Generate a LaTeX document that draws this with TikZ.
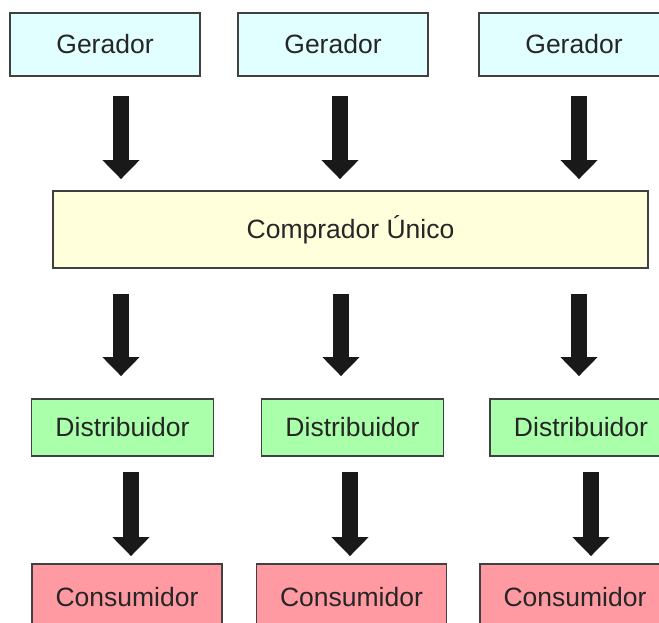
\documentclass[tikz,border=0pt]{standalone}
\usepackage{fontspec}
\setmainfont{Liberation Sans}
\usetikzlibrary{arrows.meta,calc}

\definecolor{corger}{HTML}{E1FFFF}
\definecolor{corcomp}{HTML}{FFFFDC}
\definecolor{cordist}{HTML}{AAFFAA}
\definecolor{corcons}{HTML}{FF99A2}

\begin{document}
\begin{tikzpicture}[x=1pt,y=-1pt,
		caixa/.style={draw=black!75,line width=1.8pt,inner sep=0pt,text=black!85,font=\fontsize{26.5}{30}\selectfont},
		ger/.style={caixa,fill=corger,minimum width=190pt,minimum height=63pt},
		comp/.style={caixa,fill=corcomp,minimum width=595pt,minimum height=77pt},
		dist/.style={caixa,fill=cordist,minimum width=182pt,minimum height=57pt},
		cons/.style={caixa,fill=corcons,minimum width=190pt,minimum height=66pt},
		seta/.style={line width=16pt,draw=black!90,-{Triangle[width=36pt,length=19pt]}}]
			\clip (0,0) rectangle (659,623);
			\fill[white] (0,0) rectangle (659,623);
			% geradores
			\node[ger] (g1) at (105,44.5) {Gerador};
			\node[ger] (g2) at (333,44.5) {Gerador};
			\node[ger] (g3) at (574,44.5) {Gerador};
			\node[comp] (cu) at (350.5,229.5) {Comprador Único};
			% distribuidores e consumidores
			\node[dist] (d1) at (122.5,427.5) {Distribuidor};
			\node[dist] (d2) at (352.5,427.5) {Distribuidor};
			\node[dist] (d3) at (581,427.5) {Distribuidor};
			\node[cons] (c1) at (127,597) {Consumidor};
			\node[cons] (c2) at (351.5,597) {Consumidor};
			\node[cons] (c3) at (575,597) {Consumidor};
			\draw[seta] ($(g1.south)+(16,19)$) -- ($(g1.south |- cu.north)+(16,-11)$);
			\draw[seta] ($(g2.south)+(7,19)$) -- ($(g2.south |- cu.north)+(7,-11)$);
			\draw[seta] ($(g3.south)+(5,19)$) -- ($(g3.south |- cu.north)+(5,-11)$);
			\draw[seta] ($(cu.south -| d1.north)+(-1.5,25)$) -- ($(d1.north)+(-1.5,-22)$);
			\draw[seta] ($(cu.south -| d2.north)+(-11.5,25)$) -- ($(d2.north)+(-11.5,-22)$);
			\draw[seta] ($(cu.south -| d3.north)+(-2,25)$) -- ($(d3.north)+(-2,-22)$);
			\draw[seta] ($(d1.south)+(8.5,15)$) -- ($(d1.south |- c1.north)+(8.5,-7)$);
			\draw[seta] ($(d2.south)+(-2.5,15)$) -- ($(d2.south |- c2.north)+(-2.5,-7)$);
			\draw[seta] ($(d3.south)+(10,15)$) -- ($(d3.south |- c3.north)+(10,-7)$);
		\end{tikzpicture}
\end{document}
